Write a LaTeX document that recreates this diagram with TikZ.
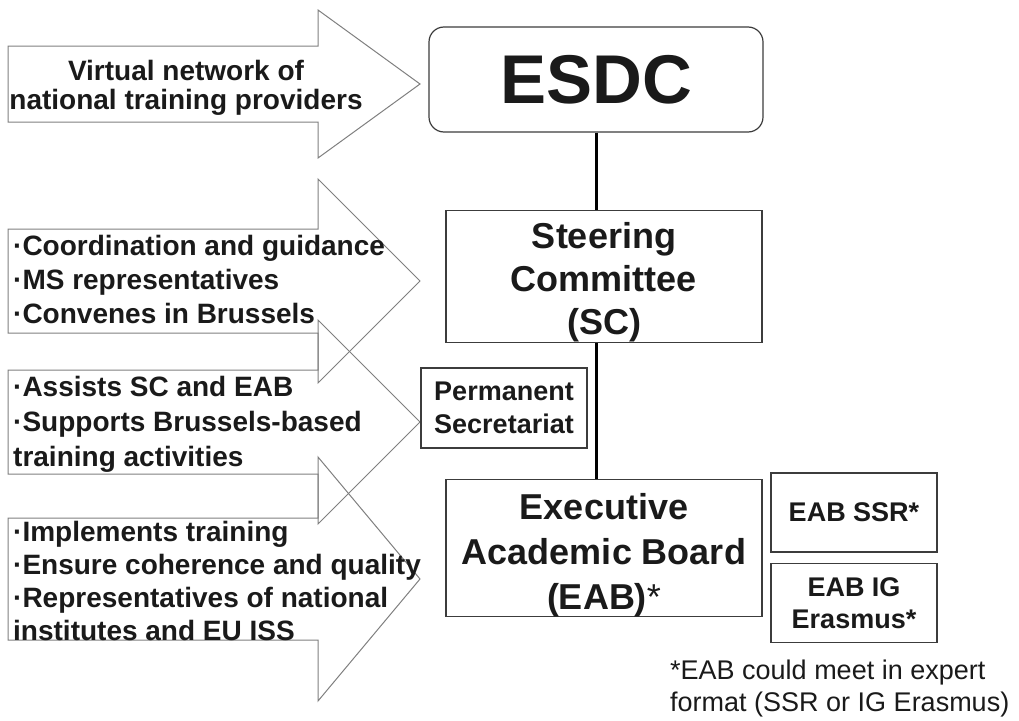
\documentclass[tikz,border=0pt]{standalone}
\usepackage{fontspec}
\setmainfont{Liberation Sans}
\usetikzlibrary{positioning}
\definecolor{ink}{HTML}{1A1A1A}
\definecolor{arrowgray}{HTML}{7F7F7F}
\definecolor{boxline}{HTML}{3C3C3C}

\begin{document}
\begin{tikzpicture}[x=1pt,y=-1pt,
    bigarrow/.style={draw=arrowgray,line width=1pt,line join=miter},
    arrowtext/.style={inner sep=0pt,anchor=west,align=left,text=ink,
                      font=\bfseries\fontsize{28}{34}\selectfont},
    orgbox/.style={draw=boxline,line width=1.2pt,inner sep=0pt,align=center,text=ink},
    smallbox/.style={orgbox,minimum width=166pt,minimum height=79pt,
                     font=\bfseries\fontsize{27}{32}\selectfont},
    link/.style={draw=black,line width=3pt}]
  \useasboundingbox (0,0) rectangle (1019,720);

  % hollow block arrows: centre / half body / half head
  \foreach \cy/\bh/\hh in {84/38/74,281/52/102,422/52/102,579/61/122}
    \draw[bigarrow] (8,\cy-\bh) -- (318,\cy-\bh) -- (318,\cy-\hh) -- (420,\cy)
      -- (318,\cy+\hh) -- (318,\cy+\bh) -- (8,\cy+\bh) -- cycle;

  \node[arrowtext,anchor=center,align=center,font=\bfseries\fontsize{28}{29}\selectfont]
    (network) at (186,88) {Virtual network of\\national training providers};
  \node[arrowtext] (sctasks) at (13,279)
    {·Coordination and guidance\\·MS representatives\\·Convenes in Brussels};
  \node[arrowtext,font=\bfseries\fontsize{28}{35}\selectfont] (sectasks) at (13,424)
    {·Assists SC and EAB\\·Supports Brussels-based\\training activities};
  \node[arrowtext,font=\bfseries\fontsize{28}{33}\selectfont] (eabtasks) at (13,581)
    {·Implements training\\·Ensure coherence and quality\\·Representatives of national\\institutes and EU ISS};

  % organisation chart (struts push the three-line labels down to the box floor)
  \node[orgbox,rounded corners=15pt,minimum width=334pt,minimum height=105pt,
        font=\bfseries\fontsize{69}{80}\selectfont] (esdc) at (596,79.5) {ESDC};
  \node[orgbox,minimum width=316pt,minimum height=131pt,
        font=\bfseries\fontsize{36}{43}\selectfont] (sc) at (604,276.5)
    {\rule{0pt}{38pt}Steering\\Committee\\(SC)};
  \node[orgbox,minimum width=166pt,minimum height=80pt,
        font=\bfseries\fontsize{27}{33}\selectfont] (secretariat) at (504,408)
    {Permanent\\Secretariat};
  \node[orgbox,minimum width=316pt,minimum height=132pt,
        font=\bfseries\fontsize{36}{45}\selectfont] (eab) at (604,548)
    {\rule{0pt}{40pt}Executive\\Academic Board\\(EAB)\mdseries*};
  \node[smallbox] (ssr) at (854,512.5) {EAB SSR*};
  \node[smallbox,below=10pt of ssr] (ig) {EAB IG\\Erasmus*};
  \node[anchor=north west,inner sep=0pt,align=left,text=ink,
        font=\fontsize{27}{32}\selectfont] (note) at (670,660)
    {*EAB could meet in expert\\format (SSR or IG Erasmus)};

  \draw[link] (esdc.south) -- (esdc.south |- sc.north);
  \draw[link] (esdc.south |- sc.south) -- (esdc.south |- eab.north);
\end{tikzpicture}
\end{document}
